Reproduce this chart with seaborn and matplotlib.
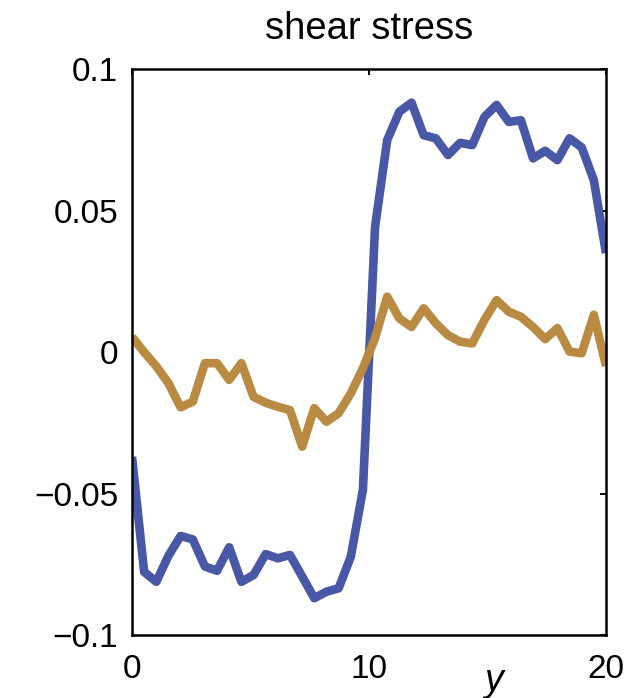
import numpy as np
import pandas as pd
import matplotlib
matplotlib.use("Agg")
import matplotlib.pyplot as plt
import seaborn as sns

# Shear stress profiles across the channel (40 samples from y = 0 to 20)
y_min, y_max = 0.0, 20.0

stress_blue = [
    -0.037, -0.0777, -0.0812, -0.072, -0.065, -0.0662, -0.0758, -0.0773,
    -0.069, -0.0812, -0.0788, -0.0714, -0.0729, -0.0717, -0.0793, -0.087,
    -0.0847, -0.0835, -0.0724, -0.0487, 0.0443, 0.075, 0.085, 0.0882,
    0.0767, 0.0756, 0.0697, 0.074, 0.0732, 0.0832, 0.0874, 0.0814,
    0.082, 0.0685, 0.0712, 0.0679, 0.0756, 0.0724, 0.0608, 0.035,
]

stress_tan = [
    0.0054, 0.0, -0.005, -0.011, -0.0195, -0.0175, -0.0039, -0.0039,
    -0.0098, -0.0039, -0.0158, -0.0179, -0.0193, -0.0205, -0.0334, -0.0198,
    -0.0246, -0.0216, -0.0146, -0.0057, 0.005, 0.0196, 0.0119, 0.0089,
    0.0155, 0.0102, 0.006, 0.0037, 0.0031, 0.0114, 0.0184, 0.0143,
    0.0125, 0.0089, 0.0046, 0.0085, 0.0002, -0.0004, 0.0132, -0.0049,
]

x_ticks = [0, 10, 20]
y_ticks = [-0.1, -0.05, 0, 0.05, 0.1]
y_tick_labels = ["\u22120.1", "\u22120.05", "0", "0.05", "0.1"]

y_pos = np.linspace(y_min, y_max, len(stress_blue))
df = pd.concat([
    pd.DataFrame({"y": y_pos, "stress": stress_blue, "series": "a"}),
    pd.DataFrame({"y": y_pos, "stress": stress_tan, "series": "b"}),
])

sns.set_theme(style="white")
plt.rcParams["font.family"] = ["Liberation Sans", "DejaVu Sans"]

fig = plt.figure(figsize=(6.37, 6.98), dpi=100)
ax = fig.add_axes([0.2072, 0.0903, 0.7441, 0.8104])

sns.lineplot(data=df, x="y", y="stress", hue="series",
             palette={"a": "#4857a6", "b": "#b98b42"},
             linewidth=6.2, legend=False, ax=ax, sort=False)
for line in ax.lines:
    line.set_solid_joinstyle("round")
    line.set_solid_capstyle("butt")

ax.set_xlim(y_min, y_max)
ax.set_ylim(-0.1, 0.1)
ax.set_xticks(x_ticks)
ax.set_xticklabels([str(t) for t in x_ticks])
ax.set_yticks(y_ticks)
ax.set_yticklabels(y_tick_labels)

for side in ["left", "right", "top", "bottom"]:
    ax.spines[side].set_visible(True)
    ax.spines[side].set_color("black")
    ax.spines[side].set_linewidth(1.8)

ax.tick_params(axis="both", which="major", direction="in", length=4,
               width=1.4, color="black", labelsize=24,
               top=True, right=True, labelcolor="black")
ax.tick_params(axis="y", pad=10)
ax.tick_params(axis="x", pad=14)

ax.set_xlabel("")
ax.set_ylabel("")
ax.text(0.762, -0.05, "y", transform=ax.transAxes, ha="center", va="top",
        fontsize=27, style="italic", color="black")
ax.set_title("shear stress", fontsize=27.5, pad=22, color="black")

fig.savefig("out.png", dpi=100, facecolor="white")
